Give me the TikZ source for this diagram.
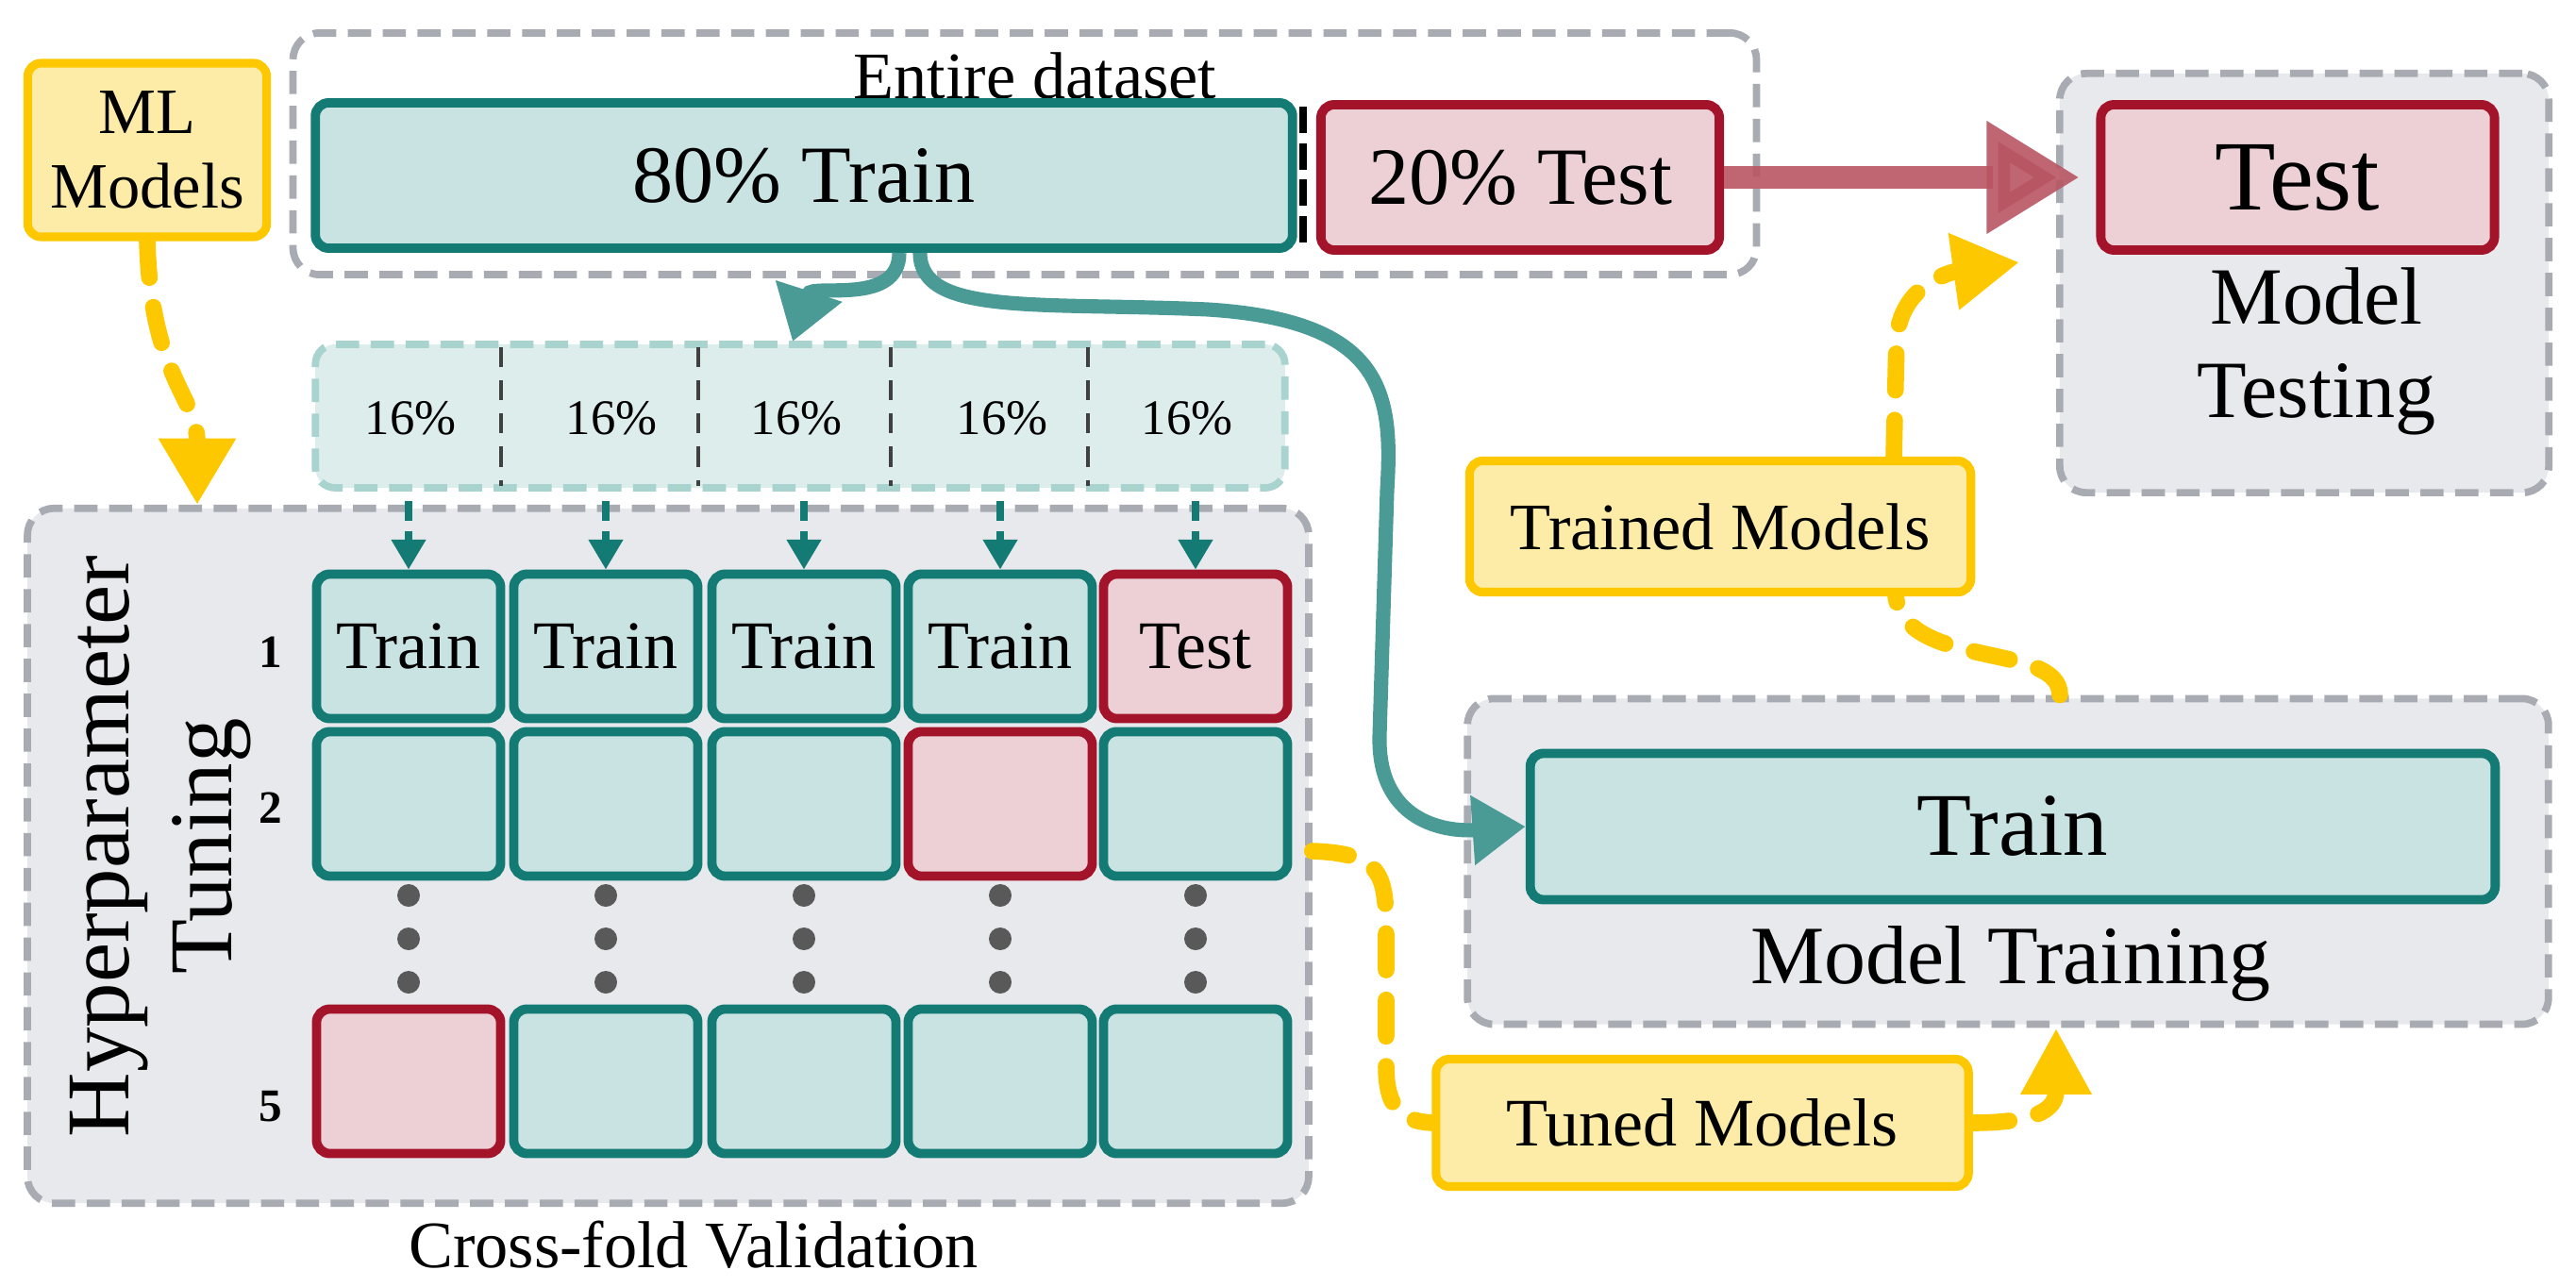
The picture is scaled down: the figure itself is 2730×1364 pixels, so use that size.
\documentclass[tikz,border=0pt]{standalone}
\usepackage{fontspec}
\setmainfont{Liberation Serif}
\usepackage{xcolor}
\usetikzlibrary{arrows.meta,positioning,calc}

\definecolor{tealline}{HTML}{137A74}
\definecolor{tealfill}{HTML}{C8E3E2}
\definecolor{stripfill}{HTML}{DCEDEC}
\definecolor{stripline}{HTML}{A8D3CF}
\definecolor{redline}{HTML}{A3142B}
\definecolor{pinkfill}{HTML}{ECD0D5}
\definecolor{yline}{HTML}{FDC800}
\definecolor{yfill}{HTML}{FDEBA8}
\definecolor{grayfill}{HTML}{E8E9ED}
\definecolor{grayline}{HTML}{A9ABB3}
\definecolor{arrowteal}{HTML}{4A9A96}
\definecolor{arrowred}{HTML}{B85563}

\newcommand{\fs}[1]{\fontsize{#1}{1.15\dimexpr#1\relax}\selectfont}

\tikzset{
    box/.style={rectangle, rounded corners=4pt, inner sep=0pt, align=center},
    trainbox/.style={box, draw=tealline, fill=tealfill, line width=2.8pt},
    testbox/.style={box, draw=redline, fill=pinkfill, line width=2.8pt},
    ybox/.style={box, draw=yline, fill=yfill, line width=2.6pt},
    graybox/.style={box, rounded corners=8pt, draw=grayline, fill=grayfill, line width=2.2pt, dash pattern=on 7pt off 3.5pt},
    ydash/.style={yline, line width=5pt, line cap=round, dash pattern=on 11pt off 9pt},
    tarrow/.style={arrowteal, line width=4.3pt, -{Triangle[length=16pt,width=20pt]}},
}

\begin{document}
\begin{tikzpicture}[x=0.01cm, y=-0.01cm]
    \useasboundingbox (0,0) rectangle (2730,1364);

    % Entire dataset
    \node[graybox, fill=none, minimum width=15.5cm, minimum height=2.56cm] (data) at (1086,163) {};
    \node[font=\fs{20pt}] (datalbl) at (1097,80) {Entire dataset};
    \node[trainbox, minimum width=10.35cm, minimum height=1.54cm, font=\fs{24.5pt}] (tr80) at (852,186) {80\% Train};
    \node[testbox, minimum width=4.22cm, minimum height=1.54cm, font=\fs{24.5pt}] (te20) at (1611,188) {20\% Test};
    \coordinate (septop) at (1381,113);
    \coordinate (sepbot) at (1381,265);
    \draw[black, line width=2.5pt, dash pattern=on 8pt off 3pt] (septop) -- (sepbot);

    % Model testing
    \node[graybox, minimum width=5.18cm, minimum height=4.44cm] (mt) at (2442,300) {};
    \node[testbox, minimum width=4.17cm, minimum height=1.54cm, font=\fs{30pt}] (te) at (2435,188) {Test};
    \node[font=\fs{24.5pt}, align=center] (mtlbl) at (2455,372) {Model\\Testing};

    % ML models
    \node[ybox, minimum width=2.53cm, minimum height=1.84cm, font=\fs{19.5pt}] (ml) at (156,159) {ML\\Models};

    % Hyperparameter tuning
    \node[graybox, minimum width=13.57cm, minimum height=7.36cm] (hp) at (708,907) {};
    \node[rotate=90, font=\fs{27pt}, align=center] (hplbl) at (170,897) {Hyperparameter\\Tuning};
    \node[font=\fs{20pt}] (cvlbl) at (735,1319) {Cross-fold Validation};

    % 16% strip
    \node[box, rounded corners=6pt, fill=stripfill, draw=stripline, line width=2.2pt, dash pattern=on 7pt off 3.5pt,
        minimum width=10.27cm, minimum height=1.52cm] (strip) at (848,441) {};
    \foreach \sx in {531,740,944,1153}
        \draw[black!75, line width=1.4pt, dash pattern=on 6pt off 4pt] (\sx,368) -- (\sx,515);
    \foreach \cx/\k in {435/1,648/2,844/3,1062/4,1258/5}
        \node[font=\fs{15pt}] (pc\k) at (\cx,443) {16\%};

    % Folds
    \foreach \cx/\k in {433/1,642/2,852/3,1060/4,1267/5} {
        \coordinate (col\k) at (\cx,0);
    }
    \foreach \k in {1,...,4}
        \node[trainbox, minimum width=1.95cm, minimum height=1.53cm, font=\fs{20.5pt}] (f1\k) at (col\k |- 0,685) {Train};
    \node[testbox, minimum width=1.95cm, minimum height=1.53cm, font=\fs{20.5pt}] (f15) at (col5 |- 0,685) {Test};
    \foreach \k in {1,2,3,5}
        \node[trainbox, minimum width=1.95cm, minimum height=1.53cm] (f2\k) at (col\k |- 0,852) {};
    \node[testbox, minimum width=1.95cm, minimum height=1.53cm] (f24) at (col4 |- 0,852) {};
    \node[testbox, minimum width=1.95cm, minimum height=1.53cm] (f51) at (col1 |- 0,1146) {};
    \foreach \k in {2,...,5}
        \node[trainbox, minimum width=1.95cm, minimum height=1.53cm] (f5\k) at (col\k |- 0,1146) {};
    \foreach \k in {1,...,5} {
        \foreach \dy in {949,995,1041}
            \fill[black!65] (col\k |- 0,\dy) circle (0.12cm);
        \draw[tealline, line width=2pt, dash pattern=on 6pt off 3pt, -{Triangle[length=9pt,width=10pt]}]
            ($(col\k |- strip.south)+(0,10)$) -- (f1\k.north);
    }
    \node[font=\bfseries\fs{14pt}] (r1) at (287,691) {1};
    \node[font=\bfseries\fs{14pt}] (r2) at (287,856) {2};
    \node[font=\bfseries\fs{14pt}] (r5) at (287,1173) {5};

    % Model training
    \node[graybox, minimum width=11.45cm, minimum height=3.45cm] (mtr) at (2128,913) {};
    \node[trainbox, minimum width=10.22cm, minimum height=1.55cm, font=\fs{27pt}] (trbig) at (2133,876) {Train};
    \node[font=\fs{25pt}] (mtrlbl) at (2131,1021) {Model Training};

    % Outputs
    \node[ybox, minimum width=5.31cm, minimum height=1.39cm, font=\fs{20pt}] (trained) at (1823,558) {Trained Models};
    \node[ybox, minimum width=5.64cm, minimum height=1.35cm, font=\fs{20.5pt}] (tuned) at (1804,1190) {Tuned Models};

    % Connectors
    \draw[arrowred, opacity=0.9, line width=7pt, -{Triangle[length=28pt,width=32pt]}, shorten >=5pt] (te20.east) -- (te.west);
    \draw[tarrow] (tr80.south -| 953,0) .. controls (953,325) and (860,300) .. (840,362);
    \draw[tarrow] (tr80.south -| 975,0) .. controls (975,335) and (1100,320) .. (1280,328)
        .. controls (1470,340) and (1476,420) .. (1470,520) -- (1462,780)
        .. controls (1460,870) and (1530,882) .. (trbig.west);
    \draw[ydash, -{Triangle[length=20pt,width=22pt]}] (ml.south) .. controls (160,400) and (209,420) .. (hp.north -| 209,0);
    \draw[ydash] (hp.east |- 0,902) .. controls (1470,905) and (1469,930) .. (1469,1000) -- (1469,1130)
        .. controls (1469,1180) and (1490,1188) .. (tuned.west);
    \draw[ydash, -{Triangle[length=20pt,width=20pt]}] (tuned.east) .. controls (2170,1190) and (2179,1170) .. (mtr.south -| 2179,0);
    \draw[ydash] (mtr.north -| 2183,0) .. controls (2183,680) and (2020,710) .. (trained.south -| 2009,0);
    \draw[ydash, -{Triangle[length=20pt,width=22pt]}] (trained.north -| 2007,0) -- (2010,360)
        .. controls (2015,290) and (2090,285) .. (2140,278);
\end{tikzpicture}
\end{document}
